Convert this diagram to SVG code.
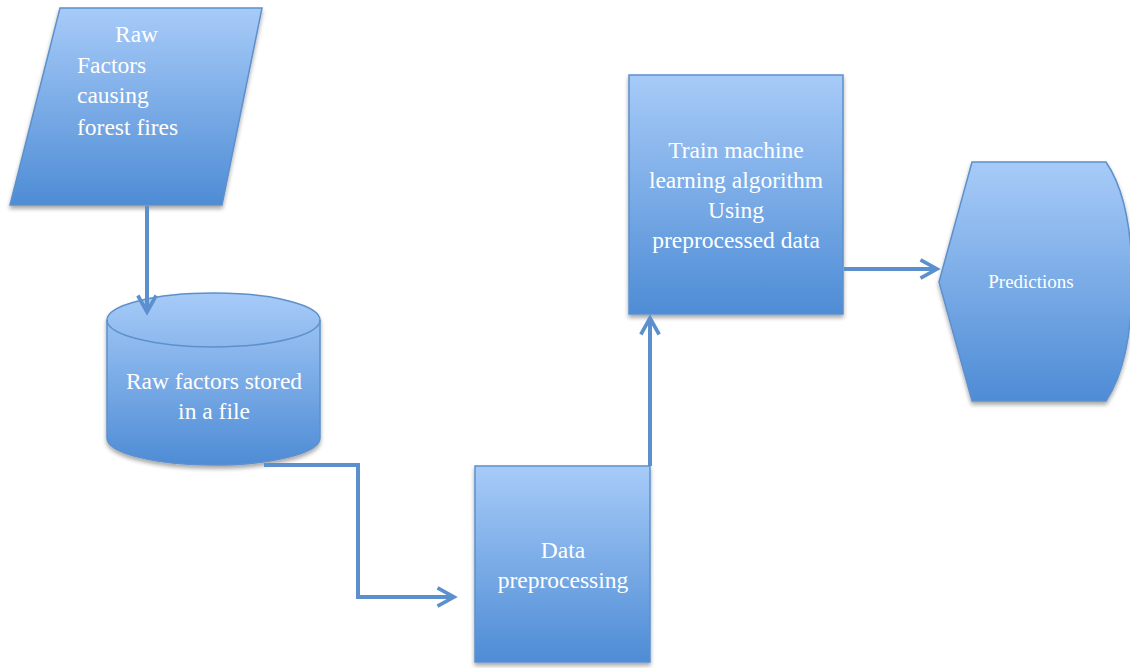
<svg xmlns="http://www.w3.org/2000/svg" width="1130" height="668" viewBox="0 0 1130 668">
<defs>
<linearGradient id="g" x1="0" y1="0" x2="0" y2="1">
<stop offset="0" stop-color="#a7cbf8"/>
<stop offset="1" stop-color="#4e8cd5"/>
</linearGradient>
<filter id="sh" x="-10%" y="-10%" width="120%" height="125%">
<feGaussianBlur in="SourceAlpha" stdDeviation="2"/>
<feOffset dx="0" dy="3" result="b"/>
<feComponentTransfer><feFuncA type="linear" slope="0.35"/></feComponentTransfer>
<feMerge><feMergeNode/><feMergeNode in="SourceGraphic"/></feMerge>
</filter>
<marker id="ah" viewBox="0 0 12 12" refX="10" refY="6" markerWidth="5.5" markerHeight="5.5" orient="auto" markerUnits="strokeWidth">
<path d="M1,1 L10,6 L1,11" fill="none" stroke="#5b8fcd" stroke-width="2" stroke-linejoin="miter"/>
</marker>
</defs>
<style>
.n{fill:url(#g);stroke:#5d90cc;stroke-width:1.5;filter:url(#sh)}
.t{font-family:"Liberation Serif","Times New Roman",serif;fill:#ffffff;font-size:23.5px}
.c{fill:none;stroke:#5b8fcd;stroke-width:4;stroke-linejoin:miter}
</style>
<rect width="1130" height="668" fill="#ffffff"/>
<g id="raw-factors">
<path class="n" d="M60,8 L262,8 L222,205 L10,205 Z"/>
<text class="t" x="115" y="42">Raw</text>
<text class="t" x="77" y="73">Factors</text>
<text class="t" x="77" y="103">causing</text>
<text class="t" x="77" y="135">forest fires</text>
</g>
<g id="stored-file">
<path class="n" d="M107,320 A106.5,27 0 0 1 320,320 L320,438 A106.5,27 0 0 1 107,438 Z"/>
<path d="M107,320 A106.5,27 0 0 0 320,320" fill="none" stroke="#5d90cc" stroke-width="1.5"/>
<text class="t" x="214" y="389" text-anchor="middle">Raw factors stored</text>
<text class="t" x="214" y="419" text-anchor="middle">in a file</text>
</g>
<g id="preprocessing">
<rect class="n" x="475" y="466" width="175" height="196"/>
<text class="t" x="563" y="558" text-anchor="middle">Data</text>
<text class="t" x="563" y="588" text-anchor="middle">preprocessing</text>
</g>
<g id="train">
<rect class="n" x="629" y="75" width="214" height="239"/>
<text class="t" x="736" y="158" text-anchor="middle">Train machine</text>
<text class="t" x="736" y="188" text-anchor="middle">learning algorithm</text>
<text class="t" x="736" y="218" text-anchor="middle">Using</text>
<text class="t" x="736" y="248" text-anchor="middle">preprocessed data</text>
</g>
<g id="predictions">
<path class="n" d="M939,282 L972,162 L1106,162 Q1132,200 1132,281 Q1132,362 1106,401 L972,401 Z"/>
<text class="t" x="1031" y="288" text-anchor="middle" style="font-size:19px">Predictions</text>
</g>
<g id="connectors">
<path class="c" d="M147,206 L147,312" marker-end="url(#ah)"/>
<path class="c" d="M264,465 L358,465 L358,597 L454,597" marker-end="url(#ah)"/>
<path class="c" d="M650,466 L650,318" marker-end="url(#ah)"/>
<path class="c" d="M844,269 L937,269" marker-end="url(#ah)"/>
</g>
</svg>
